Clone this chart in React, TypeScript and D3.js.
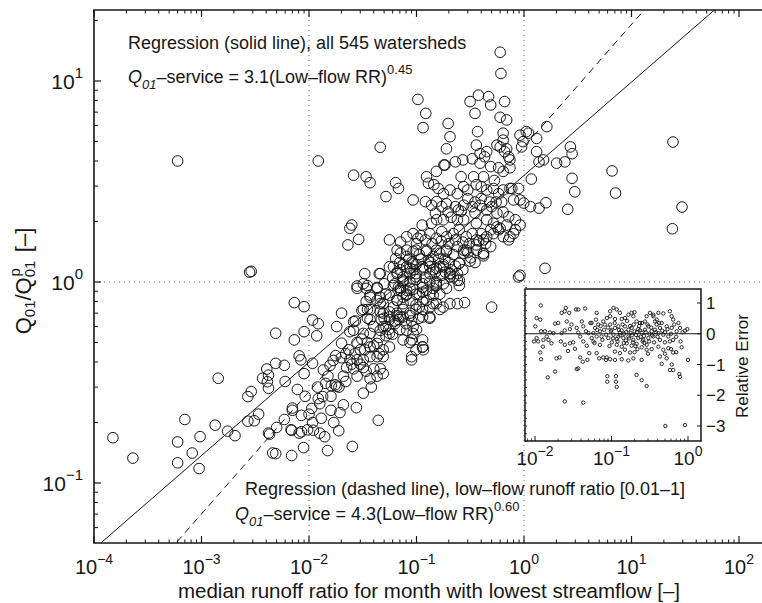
import React from "react";
import * as d3 from "d3";

// main scatter: [median low-flow runoff ratio, Q01/Q01p]
const mainPoints: [number, number][] = [
  [0.00015, 0.168], [0.00023, 0.133], [0.0007, 0.207], [0.0006, 0.16], [0.0006, 0.126], [0.00097, 0.17],
  [0.00082, 0.141], [0.00095, 0.118], [0.00134, 0.194], [0.00175, 0.181], [0.00205, 0.172], [0.0027, 0.203],
  [0.0031, 0.204], [0.0034, 0.22], [0.0043, 0.175], [0.005, 0.189], [0.0059, 0.207], [0.0046, 0.141],
  [0.0049, 0.14], [0.0069, 0.137], [0.007, 0.236], [0.0068, 0.184], [0.0006, 4.0],
  [0.0028, 1.12], [0.0029, 1.13], [0.00143, 0.332], [0.0027, 0.269], [0.0029, 0.285], [0.0037, 0.332],
  [0.00405, 0.369], [0.0042, 0.344], [0.0041, 0.319], [0.0042, 0.296], [0.0049, 0.394], [0.0059, 0.385],
  [0.006, 0.32], [0.0049, 0.556], [0.0073, 0.789], [0.009, 0.754], [0.0073, 0.515], [0.009, 0.566],
  [0.0081, 0.429], [0.0084, 0.41], [0.0108, 0.647], [0.0122, 0.62], [0.0118, 0.54], [0.009, 0.35],
  [0.0108, 0.394], [0.0078, 0.292], [0.0092, 0.27], [0.007, 0.23], [0.0085, 0.217], [0.0042, 0.177],
  [0.0069, 0.183], [0.0081, 0.177], [0.0085, 0.18], [0.0097, 0.184], [0.0089, 0.15], [0.0149, 0.145],
  [0.0253, 0.152], [0.0108, 0.2], [0.0126, 0.177], [0.011, 0.183], [0.0106, 0.235], [0.0126, 0.248],
  [0.0122, 0.263], [0.0134, 0.269], [0.0194, 0.224], [0.0209, 0.245], [0.0276, 0.237], [0.0189, 0.182],
  [0.0441, 0.205], [0.0143, 0.313], [0.0161, 0.305], [0.0175, 0.308], [0.0181, 0.303], [0.0136, 0.365],
  [0.0157, 0.385], [0.0168, 0.407], [0.0177, 0.43], [0.0201, 0.496], [0.0181, 0.6], [0.0201, 0.7],
  [0.024, 0.566], [0.026, 0.635], [0.031, 0.72], [0.037, 0.73], [0.035, 0.66], [0.028, 0.955],
  [0.035, 0.96], [0.045, 1.1], [0.033, 1.1],
  [0.0234, 0.46], [0.0267, 0.44], [0.03, 0.46], [0.033, 0.46], [0.037, 0.475], [0.043, 0.495],
  [0.049, 0.46], [0.056, 0.475], [0.024, 0.41], [0.028, 0.41], [0.032, 0.41], [0.037, 0.425],
  [0.043, 0.425], [0.049, 0.425], [0.0224, 0.375], [0.026, 0.37], [0.032, 0.375], [0.04, 0.37],
  [0.046, 0.37], [0.049, 0.35], [0.043, 0.34], [0.037, 0.33], [0.038, 0.3], [0.032, 0.28],
  [0.028, 0.34], [0.0209, 0.34], [0.026, 0.575], [0.032, 0.555], [0.037, 0.555], [0.046, 0.575],
  [0.052, 0.54], [0.056, 0.555], [0.049, 0.6], [0.047, 0.65], [0.046, 0.71], [0.049, 0.78],
  [0.043, 0.81], [0.056, 0.67], [0.061, 0.75], [0.066, 0.7], [0.068, 0.65], [0.063, 0.62],
  [0.071, 0.67], [0.066, 0.81], [0.075, 0.84], [0.068, 0.94], [0.063, 0.98], [0.061, 1.19],
  [0.071, 1.15], [0.081, 1.19], [0.087, 1.1], [0.075, 1.02], [0.093, 1.24], [0.099, 1.06],
  [0.081, 0.91], [0.087, 0.81], [0.099, 0.87], [0.106, 0.75], [0.114, 0.94], [0.124, 0.81],
  [0.133, 0.87], [0.143, 0.78], [0.153, 0.98], [0.165, 0.87], [0.177, 0.75], [0.075, 0.67],
  [0.087, 0.68], [0.093, 0.555], [0.081, 0.575], [0.09, 0.515], [0.093, 0.6], [0.114, 0.515],
  [0.114, 0.475], [0.116, 0.46], [0.09, 0.41], [0.133, 0.67], [0.114, 0.73], [0.165, 0.73],
  [0.143, 1.15], [0.165, 1.19], [0.205, 1.1], [0.22, 1.06], [0.25, 1.24], [0.25, 1.02],
  [0.205, 0.78], [0.24, 0.78], [0.28, 0.79], [0.5, 0.75], [0.42, 1.38], [0.42, 1.35], [0.89, 1.06],
  [0.6, 13.9], [0.61, 10.9], [0.103, 8.1], [0.122, 6.9], [0.115, 5.86], [0.046, 4.68], [0.0122, 4.0],
  [0.026, 3.4], [0.034, 3.34], [0.037, 3.12], [0.064, 3.12], [0.068, 2.92], [0.052, 2.66],
  [0.093, 2.56], [0.025, 1.92], [0.024, 1.85], [0.023, 1.53], [0.029, 1.63], [0.315, 7.9],
  [0.377, 8.5], [0.468, 8.36], [0.49, 7.6], [0.35, 6.9], [0.66, 7.9], [0.6, 6.6], [0.69, 6.4],
  [0.64, 5.5], [0.6, 4.7], [0.69, 4.6], [0.74, 4.05], [0.197, 6.15], [0.205, 5.28], [0.19, 4.6],
  [0.184, 3.82], [0.37, 5.6], [0.36, 4.8], [0.39, 4.35], [0.45, 4.45], [0.56, 4.8], [0.64, 5.08],
  [0.66, 4.45], [0.72, 4.2], [0.918, 5.38], [1.05, 5.6], [1.1, 5.5], [0.98, 4.99], [0.95, 4.7],
  [1.31, 5.18], [1.63, 5.93], [1.31, 4.45], [1.38, 3.96], [1.52, 4.05], [2.01, 3.9], [2.4, 3.96],
  [2.7, 4.7], [2.8, 4.35], [2.8, 3.28], [2.97, 2.81], [2.55, 2.3], [1.17, 3.25], [1.38, 2.33],
  [1.6, 2.48], [0.918, 2.56], [0.89, 2.92], [0.77, 2.92], [0.918, 1.08], [1.57, 1.17],
  [6.6, 3.57], [7.1, 2.77], [24.3, 4.97], [29.5, 2.36], [24, 1.84],
  [0.18, 3.82], [0.23, 3.96], [0.27, 4.05], [0.33, 4.1], [0.39, 3.9], [0.49, 3.75], [0.58, 3.7],
  [0.64, 3.55], [0.74, 3.7], [0.43, 4.2], [0.26, 3.34], [0.34, 3.34], [0.42, 3.34], [0.53, 3.2],
  [0.153, 3.55], [0.124, 3.34],
  [0.129, 3.1], [0.145, 3.05], [0.159, 2.92], [0.178, 2.75], [0.205, 2.87], [0.24, 2.75],
  [0.275, 2.98], [0.3, 2.87], [0.36, 3.05], [0.4, 2.98], [0.45, 2.87], [0.52, 2.92], [0.58, 2.75],
  [0.64, 2.87], [0.74, 2.92], [0.8, 2.56], [0.995, 2.47], [1.15, 2.37],
  [0.121, 2.51], [0.138, 2.41], [0.154, 2.51], [0.172, 2.37], [0.197, 2.23], [0.23, 2.37],
  [0.245, 2.28], [0.275, 2.41], [0.33, 2.37], [0.35, 2.2], [0.39, 2.41], [0.45, 2.28], [0.5, 2.37],
  [0.56, 2.2], [0.64, 2.23], [0.72, 2.11], [0.83, 2.04], [0.275, 2.04], [0.24, 2.04], [0.178, 2.04],
  [0.154, 2.04], [0.138, 1.96], [0.113, 1.92], [0.36, 1.96], [0.45, 2.04], [0.52, 1.96], [0.6, 1.85],
  [0.69, 1.92],
  [0.056, 1.62], [0.071, 1.58], [0.081, 1.68], [0.093, 1.74], [0.103, 1.65], [0.121, 1.62],
  [0.133, 1.74], [0.153, 1.65], [0.172, 1.78], [0.19, 1.68], [0.22, 1.74], [0.25, 1.82], [0.29, 1.68],
  [0.33, 1.74], [0.36, 1.62], [0.4, 1.74], [0.45, 1.68], [0.52, 1.74], [0.58, 1.82], [0.64, 1.68],
  [0.72, 1.62], [0.8, 1.74], [0.49, 1.5], [0.42, 1.39], [0.36, 1.44], [0.29, 1.44], [0.24, 1.5],
  [0.19, 1.44], [0.153, 1.44], [0.124, 1.44], [0.099, 1.44], [0.081, 1.44], [0.066, 1.44],
  [0.056, 1.19], [0.066, 1.1], [0.075, 1.0], [0.087, 0.93], [0.099, 1.1], [0.114, 1.19], [0.133, 1.1],
  [0.153, 1.0], [0.178, 1.19], [0.205, 1.1], [0.24, 1.02], [0.071, 0.93], [0.056, 0.86], [0.081, 0.86],
  [0.114, 0.89], [0.143, 0.93], [0.19, 0.93], [0.25, 0.96], [0.046, 1.1], [0.043, 0.93], [0.034, 0.93],
  [0.028, 0.93], [0.037, 0.84],
  [0.071, 1.39], [0.081, 1.34], [0.093, 1.42], [0.106, 1.37], [0.124, 1.42], [0.143, 1.34],
  [0.165, 1.39], [0.19, 1.42], [0.22, 1.37], [0.275, 1.44], [0.075, 1.22], [0.087, 1.17], [0.099, 1.22],
  [0.114, 1.15], [0.133, 1.19], [0.153, 1.17], [0.178, 1.22], [0.21, 1.15], [0.24, 1.1], [0.25, 1.24],
  [0.205, 1.06], [0.172, 1.08], [0.066, 1.12], [0.075, 1.06], [0.087, 1.0], [0.099, 1.03], [0.114, 0.98],
  [0.133, 1.0], [0.153, 0.96], [0.178, 0.98], [0.061, 0.96], [0.071, 0.91], [0.081, 0.87], [0.093, 0.92],
  [0.106, 0.87], [0.124, 0.91], [0.143, 0.86], [0.066, 0.81], [0.075, 0.78], [0.099, 0.77], [0.114, 0.8],
  [0.133, 0.75], [0.153, 0.78], [0.056, 0.71], [0.066, 0.68], [0.075, 0.73], [0.087, 0.7], [0.099, 0.73],
  [0.114, 0.67], [0.133, 0.66], [0.049, 0.7], [0.056, 0.65], [0.063, 0.64], [0.052, 0.6], [0.046, 0.78],
  [0.046, 0.84], [0.052, 0.87], [0.05, 0.98], [0.043, 0.94], [0.037, 0.86], [0.034, 0.8], [0.035, 0.73],
  [0.032, 0.73], [0.037, 0.65], [0.027, 0.64], [0.032, 0.98], [0.075, 0.515], [0.087, 0.5], [0.099, 0.46],
  [0.114, 0.475], [0.09, 0.425],
  [0.064, 1.31], [0.091, 1.26], [0.129, 1.28], [0.184, 1.3], [0.32, 1.32], [0.275, 1.39], [0.315, 1.27],
  [0.36, 1.53], [0.42, 1.62], [0.49, 1.82], [0.56, 1.88], [0.74, 1.68], [0.83, 1.82], [0.92, 1.92],
  [0.06, 1.05], [0.07, 1.25], [0.085, 1.3], [0.095, 1.15], [0.11, 1.3], [0.12, 1.05], [0.135, 1.25],
  [0.15, 1.12], [0.16, 1.3], [0.185, 1.12], [0.2, 1.25], [0.23, 1.2], [0.27, 1.15], [0.3, 1.4], [0.35, 1.25],
  [0.1, 1.55], [0.11, 1.7], [0.14, 1.55], [0.17, 1.6], [0.2, 1.55], [0.23, 1.62], [0.27, 1.58], [0.31, 1.55],
  [0.38, 1.6], [0.44, 1.55], [0.15, 2.2], [0.19, 2.45], [0.21, 2.1], [0.26, 2.25], [0.3, 2.6], [0.35, 2.5],
  [0.4, 2.6], [0.48, 2.5], [0.55, 2.5], [0.62, 2.5], [0.04, 0.6], [0.045, 0.53], [0.05, 0.66], [0.055, 0.58],
  [0.06, 0.55], [0.07, 0.58], [0.08, 0.62], [0.09, 0.64], [0.1, 0.58], [0.105, 0.66], [0.028, 0.5],
  [0.031, 0.52], [0.035, 0.5], [0.04, 0.48], [0.045, 0.44], [0.02, 0.42], [0.022, 0.44], [0.025, 0.39],
  [0.03, 0.39], [0.034, 0.36], [0.012, 0.3], [0.015, 0.34], [0.016, 0.27], [0.019, 0.3], [0.022, 0.32],
  [0.01, 0.22], [0.013, 0.21], [0.016, 0.23], [0.014, 0.17], [0.017, 0.2],
];

// inset: [runoff ratio, relative error]
const insetPoints: [number, number][] = [
  [0.0119, 0.92], [0.0105, 0.51], [0.0117, 0.46], [0.0101, 0.24], [0.012, 0.08], [0.0105, -0.14],
  [0.011, -0.25], [0.0129, -0.2], [0.0127, -0.42], [0.0117, -0.61], [0.012, -0.83], [0.0142, -0.09],
  [0.0135, 0.08], [0.0157, 0.04], [0.0147, -1.42], [0.0174, 0.02], [0.015, -0.2], [0.0164, -0.31],
  [0.0097, -0.25], [0.0183, -1.23], [0.0191, -0.8], [0.0209, -0.77], [0.0183, 0.33], [0.0201, 0.35],
  [0.0223, 0.68], [0.0245, 0.73], [0.0253, 0.84], [0.028, 0.68], [0.026, 0.4], [0.03, 0.3],
  [0.0223, 0.02], [0.0245, 0.11], [0.0286, 0.15], [0.0218, -0.25], [0.0245, -0.36], [0.0286, -0.31],
  [0.027, -0.56], [0.0333, -0.49], [0.0316, -0.28], [0.0368, 0.04], [0.0351, 0.19], [0.0344, 0.79],
  [0.0368, 0.79], [0.041, 0.4], [0.0452, 0.82], [0.0428, 0.24], [0.0464, 0.08], [0.039, -0.09],
  [0.0428, -0.25], [0.0474, -0.39], [0.039, -0.77], [0.0421, -0.91], [0.0368, -1.13], [0.0351, -1.15],
  [0.0484, -0.85], [0.0512, -0.63], [0.055, -0.14], [0.058, 0.02], [0.061, 0.19], [0.0627, 0.46],
  [0.064, 0.68], [0.067, 0.3], [0.0706, 0.08], [0.074, -0.09], [0.0706, -0.36], [0.064, -0.63],
  [0.069, -0.8], [0.078, -0.77], [0.0866, -0.77], [0.085, -0.85], [0.0245, -2.2], [0.0428, -2.24],
  [0.088, -1.38], [0.088, -1.56], [0.1145, -1.38], [0.1145, -1.56], [0.117, -1.73], [0.106, 0.84],
  [0.117, 0.79], [0.129, 0.68], [0.096, 0.57], [0.111, 0.48], [0.136, 0.48], [0.15, 0.51], [0.166, 0.62],
  [0.183, 0.68], [0.193, 0.57], [0.2, 0.7], [0.213, 0.4], [0.236, 0.35], [0.096, 0.3], [0.111, 0.19],
  [0.123, 0.24], [0.136, 0.11], [0.15, 0.24], [0.166, 0.13], [0.183, 0.19], [0.2, 0.08], [0.224, 0.15],
  [0.248, 0.04], [0.274, 0.13], [0.303, 0.24], [0.335, 0.08], [0.106, -0.03], [0.123, -0.09],
  [0.143, -0.14], [0.166, -0.09], [0.193, -0.2], [0.224, -0.14], [0.26, -0.2], [0.303, -0.14],
  [0.352, -0.09], [0.101, -0.28], [0.117, -0.36], [0.136, -0.42], [0.158, -0.31], [0.183, -0.39],
  [0.213, -0.33], [0.248, -0.44], [0.288, -0.36], [0.335, -0.5], [0.111, -0.58], [0.129, -0.63],
  [0.15, -0.52], [0.175, -0.61], [0.096, -0.83], [0.111, -0.85], [0.136, -0.83], [0.166, -0.87],
  [0.193, -0.8], [0.248, -0.85], [0.288, -0.52], [0.213, -1.34], [0.248, -1.51], [0.288, -1.7],
  [0.274, 0.4], [0.288, 0.57], [0.318, 0.68], [0.352, 0.57], [0.37, 0.4], [0.39, 0.3],
  [0.352, 0.62], [0.41, 0.68], [0.476, 0.66], [0.58, 0.73], [0.61, 0.57], [0.64, 0.46], [0.453, 0.35],
  [0.526, 0.24], [0.612, 0.19], [0.711, 0.08], [0.786, 0.19], [0.914, 0.1], [0.98, 0.15], [0.41, 0.02],
  [0.476, -0.03], [0.553, -0.09], [0.43, -0.2], [0.5, -0.28], [0.58, -0.25], [0.64, -0.2], [0.41, -0.42],
  [0.476, -0.52], [0.553, -0.47], [0.64, -0.61], [0.43, -0.74], [0.526, -0.8], [0.453, -0.98],
  [0.612, -1.0], [0.58, -1.18], [0.64, -1.18], [0.786, -1.4], [0.77, -1.31], [0.827, -0.44],
  [1.0, -0.85], [0.506, -3.0], [0.914, -2.97], [0.39, 0.46],
  [0.08, 0.13], [0.085, -0.03], [0.091, -0.14], [0.098, 0.08], [0.129, 0.04], [0.146, 0.0], [0.178, 0.02],
  [0.209, -0.04], [0.236, 0.11], [0.266, -0.07], [0.313, 0.0], [0.37, 0.13], [0.43, 0.19], [0.117, -0.17],
  [0.154, -0.22], [0.19, -0.28], [0.218, -0.5], [0.255, -0.25], [0.36, -0.28], [0.058, -0.25],
  [0.064, -0.09], [0.05, 0.02], [0.053, 0.35], [0.078, 0.4], [0.087, 0.51], [0.096, 0.73],
  [0.055, 0.35], [0.06, -0.3], [0.065, 0.12], [0.072, 0.25], [0.076, -0.2], [0.082, 0.3], [0.09, 0.2],
  [0.094, -0.4], [0.1, 0.12], [0.105, -0.15], [0.11, 0.35], [0.12, -0.25], [0.125, 0.12], [0.13, -0.05],
  [0.14, 0.3], [0.145, -0.3], [0.155, 0.05], [0.16, 0.42], [0.17, -0.15], [0.175, 0.25], [0.185, -0.05],
  [0.195, 0.3], [0.205, -0.4], [0.215, 0.05], [0.23, 0.25], [0.24, -0.1], [0.25, 0.35], [0.27, -0.3],
  [0.28, 0.05], [0.295, 0.3], [0.31, -0.25], [0.33, 0.2], [0.34, -0.05], [0.38, 0.05], [0.4, -0.1],
  [0.42, 0.35], [0.46, 0.1], [0.5, 0.05], [0.54, 0.15], [0.6, 0.0], [0.66, 0.3], [0.7, -0.1], [0.75, 0.35],
  [0.8, -0.25], [0.85, 0.05], [0.6, -0.5], [0.7, -0.6], [0.5, -0.65], [0.3, -0.65], [0.2, -0.6],
];

// regression lines, end points (clipped to the axes)
const solidLine: [number, number][] = [[1e-4, 0.047], [100, 28.8]];
const dashedLine: [number, number][] = [[5.0e-4, 0.046], [15.85, 25.3]];

const xTicks = [1e-4, 1e-3, 1e-2, 1e-1, 1, 10, 100];
const yTicks = [0.1, 1, 10];
const xGrid = [1e-2, 1];
const yGrid = [1];
const insetXTicks = [0.01, 0.1, 1];
const insetYTicks = [1, 0, -1, -2, -3];

const FONT = "'Liberation Sans', Arial, Helvetica, sans-serif";
const INK = "#161616";

const L = 94, T = 10, B = 543, R = 762;

const sup = (v: number) => {
  const e = Math.round(Math.log10(v));
  return e < 0 ? "\u2212" + Math.abs(e) : String(e);
};

const minorTicks = (lo: number, hi: number) => {
  const out: number[] = [];
  for (let d = -6; d <= 3; d++) {
    for (let k = 2; k <= 9; k++) {
      const v = k * Math.pow(10, d);
      if (v >= lo && v <= hi) out.push(v);
    }
  }
  return out;
};

export default function App() {
  const x = d3.scaleLog().domain([1e-4, 100]).range([94, 739]);
  const y = d3.scaleLog().domain([0.1, 10]).range([483, 81]);

  const xMax = x.invert(R);
  const yMin = y.invert(B);
  const yMax = y.invert(T);

  const line = d3
    .line<[number, number]>()
    .x(d => x(d[0]))
    .y(d => y(d[1]));

  // inset
  const ix = d3.scaleLog().domain([0.01, 1]).range([535, 688]);
  const iy = d3.scaleLinear().domain([-3, 1]).range([426, 303]);
  const iL = 525, iR = 701, iT = 289, iB = 441;
  const iyMinor = d3.range(-3.5, 1.51, 0.25);

  return (
    <svg
      width={762}
      height={603}
      style={{ position: "absolute", left: 0, top: 0, background: "#fff" }}
      fontFamily={FONT}
    >
      <defs>
        <clipPath id="plotClip">
          <rect x={L} y={T} width={R - L} height={B - T} />
        </clipPath>
      </defs>
      <rect x={0} y={0} width={762} height={603} fill="#fff" />

      {/* grid */}
      {xGrid.map(g => (
        <line key={"xg" + g} x1={x(g)} x2={x(g)} y1={T} y2={B}
          stroke="#666" strokeWidth={1} strokeDasharray="1 4" />
      ))}
      {yGrid.map(g => (
        <line key={"yg" + g} x1={L} x2={R} y1={y(g)} y2={y(g)}
          stroke="#666" strokeWidth={1} strokeDasharray="1 4" />
      ))}

      {/* points */}
      <g clipPath="url(#plotClip)">
        {mainPoints.map((d, i) => (
          <circle key={i} cx={x(d[0])} cy={y(d[1])} r={5.3}
            fill="none" stroke={INK} strokeWidth={1} />
        ))}
        <path d={line(solidLine) || ""} fill="none" stroke={INK} strokeWidth={1} />
        <path d={line(dashedLine) || ""} fill="none" stroke={INK} strokeWidth={1}
          strokeDasharray="7 5" />
      </g>

      {/* axes frame */}
      <line x1={L} x2={L} y1={T} y2={B} stroke={INK} strokeWidth={1.6} />
      <line x1={L - 0.8} x2={R} y1={B} y2={B} stroke={INK} strokeWidth={1.6} />
      <line x1={L - 0.8} x2={R} y1={T} y2={T} stroke={INK} strokeWidth={1.6} />

      {/* x ticks */}
      {xTicks.map(t => (
        <g key={"xt" + t}>
          <line x1={x(t)} x2={x(t)} y1={B} y2={B - 7} stroke={INK} strokeWidth={1.2} />
          <line x1={x(t)} x2={x(t)} y1={T} y2={T + 7} stroke={INK} strokeWidth={1.2} />
          <text x={x(t)} y={574} textAnchor="middle" fontSize={20} fill={INK}>
            10<tspan fontSize={14} dy={-10}>{sup(t)}</tspan>
          </text>
        </g>
      ))}
      {minorTicks(1e-4, xMax).map(t => (
        <g key={"xm" + t}>
          <line x1={x(t)} x2={x(t)} y1={B} y2={B - 3.5} stroke={INK} strokeWidth={1} />
          <line x1={x(t)} x2={x(t)} y1={T} y2={T + 3.5} stroke={INK} strokeWidth={1} />
        </g>
      ))}

      {/* y ticks */}
      {yTicks.map(t => (
        <g key={"yt" + t}>
          <line x1={L} x2={L + 7} y1={y(t)} y2={y(t)} stroke={INK} strokeWidth={1.2} />
          <text x={83} y={y(t) + 8} textAnchor="end" fontSize={21} fill={INK}>
            10<tspan fontSize={15} dy={-11}>{sup(t)}</tspan>
          </text>
        </g>
      ))}
      {minorTicks(yMin, yMax).map(t => (
        <line key={"ym" + t} x1={L} x2={L + 4} y1={y(t)} y2={y(t)} stroke={INK} strokeWidth={1} />
      ))}

      {/* axis labels */}
      <text x={429} y={598} textAnchor="middle" fontSize={20.5} fill={INK}>
        median runoff ratio for month with lowest streamflow [–]
      </text>
      <text transform="translate(31,281) rotate(-90)" textAnchor="middle" fontSize={22} fill={INK}>
        Q<tspan fontSize={15} dy={4}>01</tspan>
        <tspan dy={-4}>/Q</tspan>
        <tspan fontSize={15} dy={4}>01</tspan>
        <tspan fontSize={15} dx={-16} dy={-15}>p</tspan>
        <tspan dx={10} dy={11}> [–]</tspan>
      </text>

      {/* annotations */}
      <text x={128} y={49} fontSize={18} fill={INK}>
        Regression (solid line), all 545 watersheds
      </text>
      <text x={128} y={83} fontSize={18} fill={INK}>
        <tspan fontStyle="italic">Q</tspan>
        <tspan fontStyle="italic" fontSize={13} dy={6}>01</tspan>
        <tspan dy={-6}>–service = 3.1(Low–flow RR)</tspan>
        <tspan fontSize={13} dy={-9}>0.45</tspan>
      </text>
      <text x={245} y={495} fontSize={18} fill={INK}>
        Regression (dashed line), low–flow runoff ratio [0.01–1]
      </text>
      <text x={235} y={520} fontSize={18} fill={INK}>
        <tspan fontStyle="italic">Q</tspan>
        <tspan fontStyle="italic" fontSize={13} dy={6}>01</tspan>
        <tspan dy={-6}>–service = 4.3(Low–flow RR)</tspan>
        <tspan fontSize={13} dy={-9}>0.60</tspan>
      </text>

      {/* inset */}
      <rect x={iL} y={iT} width={iR - iL} height={iB - iT} fill="#fff" stroke={INK} strokeWidth={1.5} />
      <line x1={iL} x2={iR} y1={iy(0)} y2={iy(0)} stroke={INK} strokeWidth={1} />
      {insetPoints.map((d, i) => (
        <circle key={"ip" + i} cx={ix(d[0])} cy={iy(d[1])} r={1.7}
          fill="none" stroke={INK} strokeWidth={0.9} />
      ))}
      {insetXTicks.map(t => (
        <g key={"ixt" + t}>
          <line x1={ix(t)} x2={ix(t)} y1={iB} y2={iB - 5} stroke={INK} strokeWidth={1} />
          <text x={ix(t)} y={465} textAnchor="middle" fontSize={19} fill={INK}>
            10<tspan fontSize={14} dy={-9}>{sup(t)}</tspan>
          </text>
        </g>
      ))}
      {minorTicks(ix.invert(iL), ix.invert(iR)).map(t => (
        <line key={"ixm" + t} x1={ix(t)} x2={ix(t)} y1={iB} y2={iB - 2.5} stroke={INK} strokeWidth={0.8} />
      ))}
      {iyMinor.map(t => (
        <line key={"iym" + t} x1={iL} x2={iL + 2} y1={iy(t)} y2={iy(t)} stroke={INK} strokeWidth={0.8} />
      ))}
      {insetYTicks.map(t => (
        <g key={"iyt" + t}>
          <line x1={iR} x2={iR - 4} y1={iy(t)} y2={iy(t)} stroke={INK} strokeWidth={1} />
          <text x={706} y={iy(t) + 6} fontSize={17} fill={INK}>
            {t < 0 ? "\u2212" + Math.abs(t) : String(t)}
          </text>
        </g>
      ))}
      <text transform="translate(748,366) rotate(-90)" textAnchor="middle" fontSize={17} fill={INK}>
        Relative Error
      </text>
    </svg>
  );
}
